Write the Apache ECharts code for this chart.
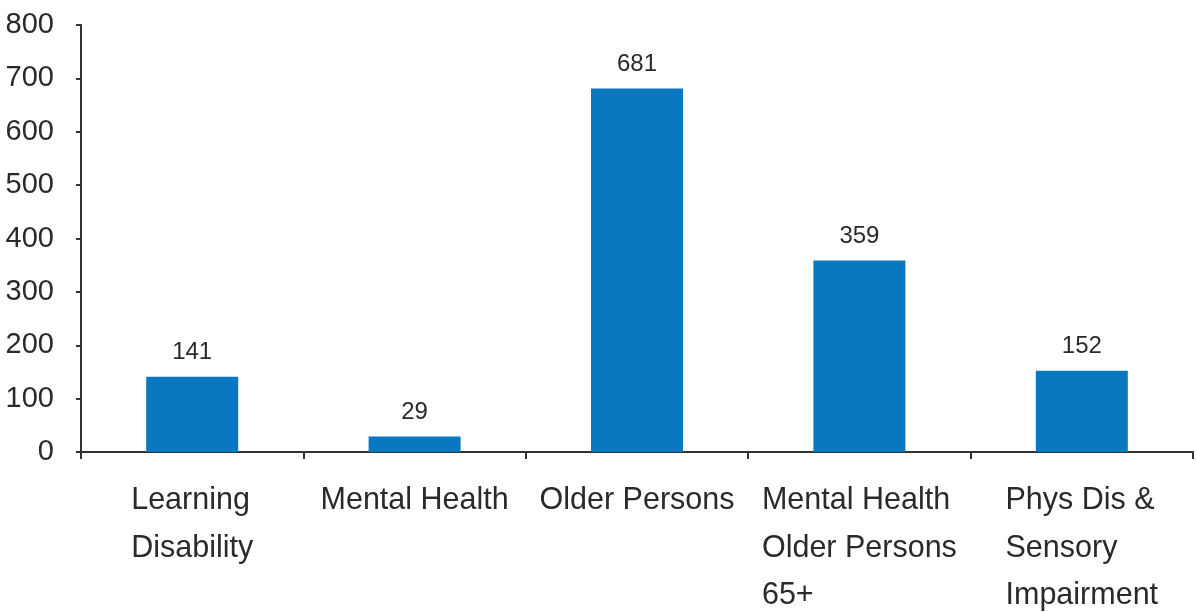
<!DOCTYPE html>
<html>
<head>
<meta charset="utf-8">
<script src="https://cdn.jsdelivr.net/npm/echarts@6/dist/echarts.min.js"></script>
<style>
  html, body { margin: 0; padding: 0; background: #fff; }
  #chart { width: 1197px; height: 612px; }
</style>
</head>
<body>
<div id="chart"></div>
<script>
// Service user groups and counts
const categories = [
  'Learning\nDisability',
  'Mental Health',
  'Older Persons',
  'Mental Health\nOlder Persons\n65+',
  'Phys Dis &\nSensory\nImpairment'
];
const counts = [141, 29, 681, 359, 152];

const yMin = 0;
const yMax = 800;
const yStep = 100;

const FONT = '"Liberation Sans", Arial, sans-serif';
const INK = '#2a2a2a';
const BAR = '#0a78c0';

const chart = echarts.init(document.getElementById('chart'), null, { renderer: 'canvas' });

chart.setOption({
  animation: false,
  backgroundColor: '#ffffff',
  grid: { left: 81, right: 4, top: 25, bottom: 160, containLabel: false },
  xAxis: {
    type: 'category',
    data: categories,
    boundaryGap: true,
    axisLine: { show: true, lineStyle: { color: '#333', width: 2 } },
    axisTick: { show: true, length: 7, lineStyle: { color: '#333', width: 2 } },
    axisLabel: {
      interval: 0,
      margin: 25,
      align: 'center',
      verticalAlign: 'top',
      formatter: function (v) {
        return v.split('\n').map(function (s) { return '{l|' + s + '}'; }).join('\n');
      },
      rich: {
        l: { fontFamily: FONT, fontSize: 30.5, color: INK, lineHeight: 47.5, align: 'left' }
      }
    }
  },
  yAxis: {
    type: 'value',
    min: yMin,
    max: yMax,
    interval: yStep,
    axisLine: { show: true, lineStyle: { color: '#333', width: 2 } },
    axisTick: { show: true, inside: false, length: 5, lineStyle: { color: '#333', width: 2 } },
    splitLine: { show: false },
    axisLabel: { fontFamily: FONT, fontSize: 29, color: INK, margin: 27 }
  },
  series: [{
    type: 'bar',
    data: counts,
    barWidth: 92,
    itemStyle: { color: BAR },
    label: {
      show: true,
      position: 'top',
      distance: 12,
      fontFamily: FONT,
      fontSize: 24,
      color: INK
    }
  }]
});
</script>
</body>
</html>
